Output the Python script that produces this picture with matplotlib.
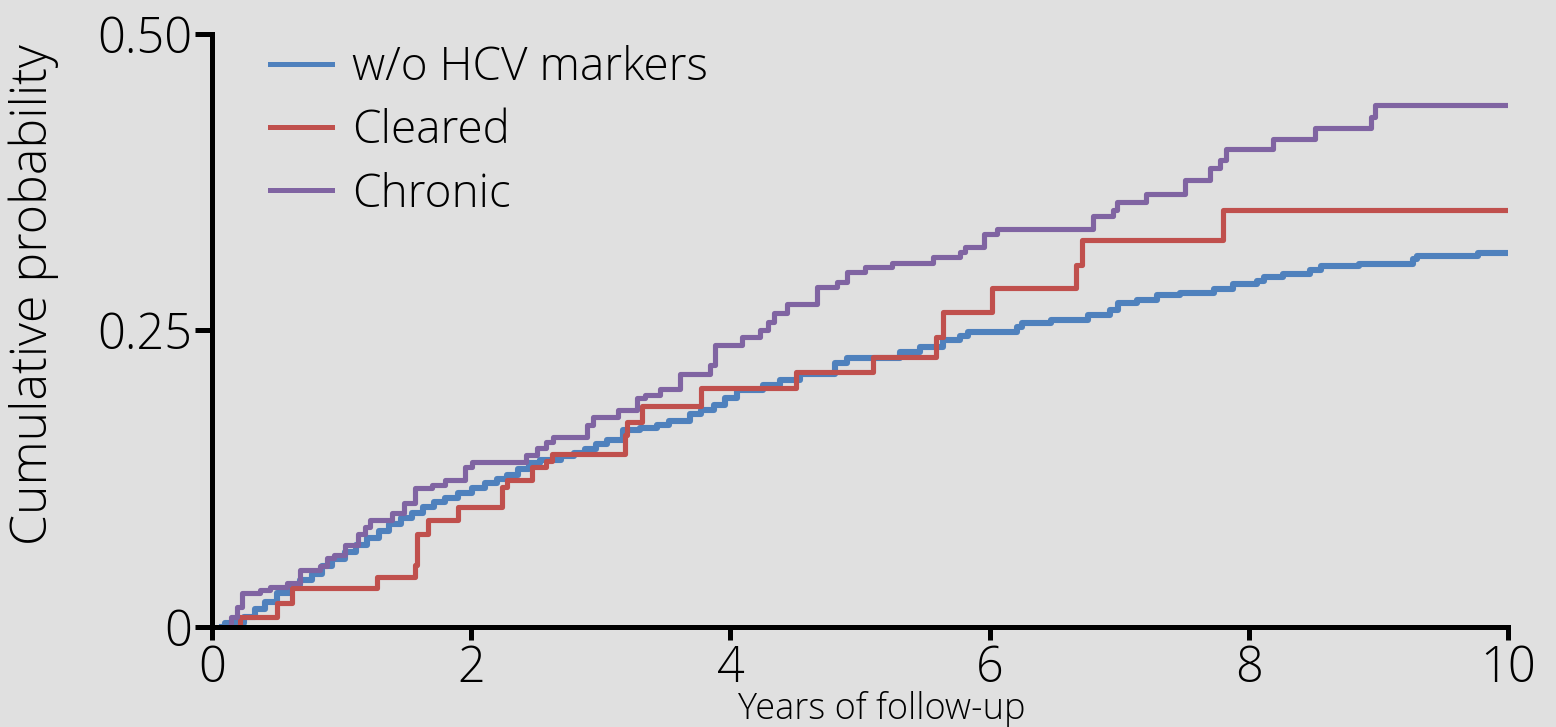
import matplotlib
matplotlib.use("Agg")
import matplotlib.pyplot as plt

# cumulative incidence steps (years of follow-up, probability after the step)
no_marker_t = [0.08, 0.10, 0.25, 0.33, 0.41, 0.50, 0.60, 0.68, 0.77, 0.85, 0.93,
               1.03, 1.11, 1.20, 1.29, 1.37, 1.46, 1.54, 1.63, 1.71, 1.80, 1.90,
               2.01, 2.11, 2.20, 2.28, 2.36, 2.45, 2.53, 2.69, 2.79, 2.88, 2.96,
               3.05, 3.17, 3.30, 3.43, 3.53, 3.69, 3.77, 3.87, 3.96, 4.05, 4.25,
               4.38, 4.54, 4.81, 4.90, 5.31, 5.46, 5.64, 5.77, 5.83, 6.21, 6.25,
               6.47, 6.76, 6.93, 6.99, 7.14, 7.29, 7.47, 7.73, 7.88, 8.06, 8.12,
               8.26, 8.47, 8.56, 8.85, 9.27, 9.30, 9.77, 10.0]
no_marker_p = [0.0, 0.003, 0.008, 0.015, 0.021, 0.029, 0.035, 0.040, 0.045, 0.051, 0.057,
               0.063, 0.069, 0.075, 0.081, 0.087, 0.092, 0.096, 0.101, 0.105, 0.109, 0.113,
               0.117, 0.121, 0.125, 0.128, 0.133, 0.138, 0.141, 0.144, 0.147, 0.150, 0.154,
               0.158, 0.166, 0.168, 0.170, 0.174, 0.180, 0.183, 0.187, 0.193, 0.200, 0.204,
               0.208, 0.213, 0.223, 0.227, 0.232, 0.236, 0.242, 0.245, 0.249, 0.253, 0.256,
               0.259, 0.263, 0.267, 0.273, 0.276, 0.280, 0.282, 0.285, 0.289, 0.292, 0.295,
               0.298, 0.301, 0.304, 0.306, 0.310, 0.313, 0.315, 0.315]

cleared_t = [0.14, 0.22, 0.50, 0.62, 1.27, 1.57, 1.58, 1.67, 1.90, 2.24, 2.28, 2.47,
             2.58, 2.62, 3.19, 3.20, 3.32, 3.77, 4.51, 5.10, 5.59, 5.64, 6.02, 6.67,
             6.71, 7.80, 9.98]
cleared_p = [0.0, 0.008, 0.020, 0.033, 0.042, 0.052, 0.078, 0.090, 0.101, 0.118, 0.124, 0.135,
             0.140, 0.146, 0.162, 0.173, 0.186, 0.2015, 0.215, 0.228, 0.2445, 0.2656, 0.286, 0.305,
             0.326, 0.3516, 0.3516]

chronic_t = [0.12, 0.15, 0.19, 0.23, 0.37, 0.45, 0.58, 0.68, 0.83, 0.89, 0.94, 1.03,
             1.13, 1.18, 1.22, 1.39, 1.48, 1.57, 1.70, 1.80, 1.95, 2.01, 2.42, 2.51,
             2.58, 2.63, 2.89, 2.94, 3.13, 3.28, 3.34, 3.46, 3.61, 3.84, 3.88, 4.09,
             4.23, 4.29, 4.34, 4.44, 4.67, 4.82, 4.90, 5.04, 5.25, 5.56, 5.77, 5.81,
             5.96, 6.06, 6.80, 6.95, 6.98, 7.21, 7.51, 7.70, 7.78, 7.82, 8.19, 8.51,
             8.94, 8.97, 10.0]
chronic_p = [0.0, 0.008, 0.017, 0.029, 0.031, 0.034, 0.037, 0.048, 0.051, 0.058, 0.061, 0.069,
             0.078, 0.084, 0.090, 0.096, 0.1045, 0.117, 0.120, 0.124, 0.135, 0.139, 0.145, 0.151,
             0.156, 0.160, 0.170, 0.177, 0.183, 0.193, 0.196, 0.2007, 0.213, 0.221, 0.238, 0.2445,
             0.250, 0.257, 0.2647, 0.2723, 0.2867, 0.291, 0.2993, 0.3035, 0.307, 0.312, 0.316, 0.320,
             0.331, 0.3356, 0.3465, 0.352, 0.358, 0.365, 0.377, 0.387, 0.394, 0.403, 0.4115, 0.4207,
             0.430, 0.440, 0.440]

labels = ["w/o HCV markers", "Cleared", "Chronic"]
colors = ["#4f81bd", "#c0504d", "#8064a2"]
x_ticks = [0, 2, 4, 6, 8, 10]
x_ticklabels = ["0", "2", "4", "6", "8", "10"]
y_ticks = [0, 0.25, 0.5]
y_ticklabels = ["0", "0.25", "0.50"]

plt.rcParams['font.family'] = ['Open Sans', 'DejaVu Sans']
plt.rcParams['font.weight'] = 'light'
plt.rcParams['axes.labelweight'] = 'light'

bg = "#e0e0e0"
fig = plt.figure(figsize=(15.56, 7.27), dpi=100, facecolor=bg)
ax = fig.add_axes([0.1362, 0.1376, 0.833, 0.8156])
ax.set_facecolor(bg)

ax.step(no_marker_t, no_marker_p, where='post', color=colors[0], lw=4.4, label=labels[0])
ax.step(cleared_t, cleared_p, where='post', color=colors[1], lw=3.7, label=labels[1])
ax.step(chronic_t, chronic_p, where='post', color=colors[2], lw=3.7, label=labels[2])

ax.set_xlim(0, 10)
ax.set_ylim(0, 0.5)
for side in ['top', 'right']:
    ax.spines[side].set_visible(False)
for side in ['left', 'bottom']:
    ax.spines[side].set_linewidth(3.6)
    ax.spines[side].set_capstyle('projecting')

ax.set_xticks(x_ticks)
ax.set_xticklabels(x_ticklabels)
ax.set_yticks(y_ticks)
ax.set_yticklabels(y_ticklabels)
ax.tick_params(axis='y', length=12, width=3.6, pad=2, labelsize=35)
ax.tick_params(axis='x', length=9, width=3.6, pad=3, labelsize=35)

ax.set_ylabel("Cumulative probability", fontsize=36)
ax.yaxis.set_label_coords(-0.118, 0.56)
ax.set_xlabel("Years of follow-up", fontsize=26)
ax.xaxis.set_label_coords(0.517, -0.108)

leg = ax.legend(loc='upper left', bbox_to_anchor=(0.0448, 0.982), frameon=False,
                fontsize=33, handlelength=1.35, handletextpad=0.45, labelspacing=0.38,
                borderpad=0, borderaxespad=0)
for line in leg.get_lines():
    line.set_linewidth(3.6)

fig.savefig("out.png", dpi=100, facecolor=bg)
